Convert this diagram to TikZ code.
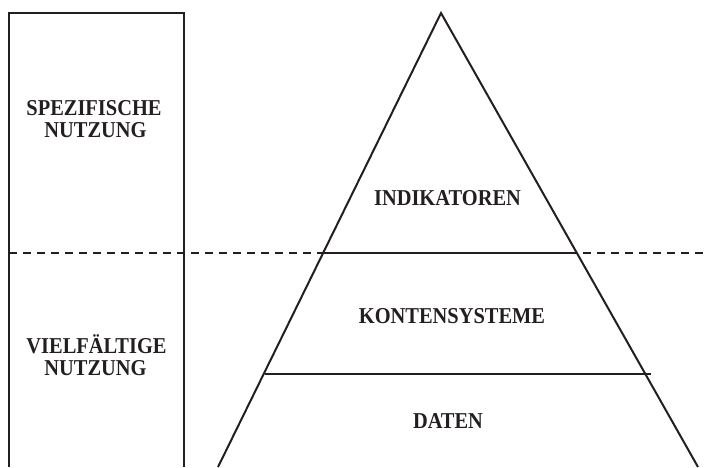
\documentclass[tikz,border=0pt]{standalone}
\usepackage{fontspec}
\setmainfont{Liberation Serif}
\newfontfamily\lblfont[FakeStretch=0.9]{Liberation Serif}
\definecolor{ink}{HTML}{231F20}
\begin{document}
\begin{tikzpicture}[x=1pt,y=-1pt,
  lbl/.style={font=\lblfont\fontsize{22.7}{22}\selectfont\bfseries, text=ink, inner sep=0pt, anchor=base},
  edge/.style={line width=2pt, draw=ink},
  dashline/.style={line width=2pt, draw=ink, dash pattern=on 8pt off 6pt}]
\useasboundingbox (0,0) rectangle (707,467);
% left column
\coordinate (rtl) at (9,13);
\coordinate (rtr) at (184,13);
\coordinate (rbl) at (9,467);
\coordinate (rbr) at (184,467);
\draw[edge] (rbl) -- (rtl) -- (rtr) -- (rbr);
% pyramid
\coordinate (apex) at (441,13);
\coordinate (bl) at (218,467);
\coordinate (br) at (698,467);
\draw[edge, line join=miter] (bl) -- (apex) -- (br);
% dashed separator
\coordinate (dl) at (9,253);
\coordinate (dr) at (707,253);
\draw[dashline] (dl) -- (dr);
\coordinate (s1l) at (323,253);
\coordinate (s1r) at (576,253);
\draw[edge] (s1l) -- (s1r);
\coordinate (s2l) at (265,374);
\coordinate (s2r) at (651,374);
\draw[edge] (s2l) -- (s2r);
% labels
\node[lbl] (spez1) at (94,115) {SPEZIFISCHE};
\node[lbl] (spez2) at (95.5,137) {NUTZUNG};
\node[lbl] (viel1) at (96.5,353) {VIELFÄLTIGE};
\node[lbl] (viel2) at (95.5,375) {NUTZUNG};
\node[lbl] (ind) at (447.5,205) {INDIKATOREN};
\node[lbl] (kon) at (452,323) {KONTENSYSTEME};
\node[lbl] (dat) at (448,428) {DATEN};
\end{tikzpicture}
\end{document}
